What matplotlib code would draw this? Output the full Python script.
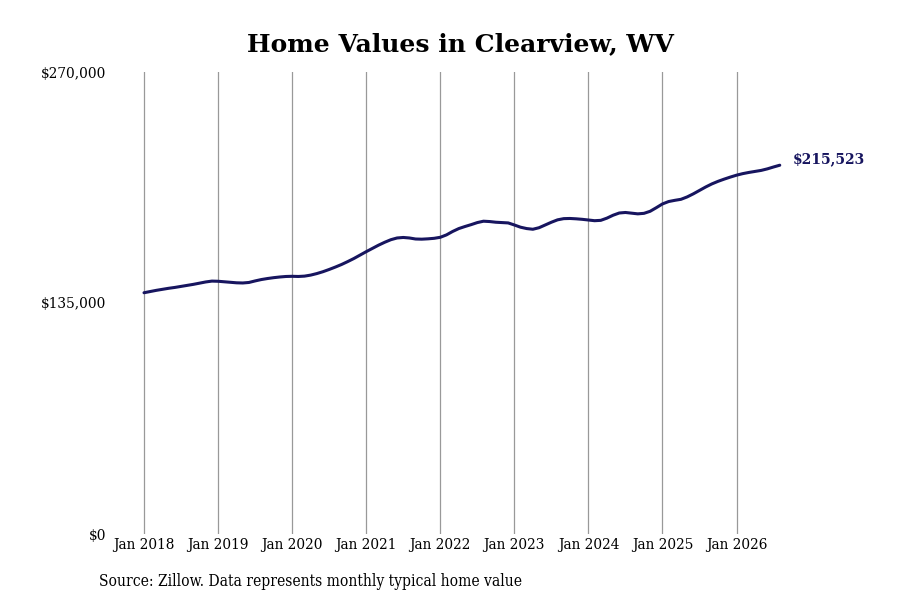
import numpy as np
import matplotlib
matplotlib.use('Agg')
import matplotlib.pyplot as plt

#monthly typical home value, in thousands of dollars (Jan 2018 - Aug 2026)
v2018 = [141.0, 141.7, 142.4, 143.0, 143.6, 144.1, 144.7, 145.3, 145.9, 146.6, 147.3, 147.8]
v2019 = [147.7, 147.4, 147.1, 146.8, 146.7, 147.0, 147.9, 148.7, 149.3, 149.8, 150.2, 150.5]
v2020 = [150.6, 150.5, 150.7, 151.3, 152.2, 153.3, 154.6, 156.0, 157.5, 159.2, 161.0, 163.0]
v2021 = [165.0, 166.9, 168.8, 170.5, 172.0, 173.0, 173.3, 173.0, 172.4, 172.3, 172.5, 172.8]
v2022 = [173.4, 174.8, 176.8, 178.5, 179.7, 180.8, 182.0, 182.8, 182.6, 182.2, 182.0, 181.8]
v2023 = [180.6, 179.3, 178.5, 178.1, 179.0, 180.6, 182.2, 183.6, 184.3, 184.4, 184.2, 183.9]
v2024 = [183.5, 183.1, 183.3, 184.6, 186.3, 187.6, 187.9, 187.5, 187.1, 187.4, 188.6, 190.7]
v2025 = [192.9, 194.3, 195.0, 195.6, 197.0, 198.8, 200.8, 202.8, 204.6, 206.1, 207.4, 208.6]
v2026 = [209.7, 210.6, 211.3, 211.9, 212.5, 213.4, 214.5, 215.523]

values = np.array(v2018 + v2019 + v2020 + v2021 + v2022 + v2023 + v2024 + v2025 + v2026) * 1000
months = np.arange(len(values))

tick_pos = np.arange(0, 97, 12)
tick_labels = ['Jan %d' % y for y in range(2018, 2027)]
y_ticks = [0, 135000, 270000]
y_labels = ['$0', '$135,000', '$270,000']
last_label = '$215,523'

navy = '#17155f'

plt.rcParams['font.family'] = 'DejaVu Serif'

fig = plt.figure(figsize=(9, 6), dpi=100)
ax = fig.add_axes([115/900, 66/600, 745/900, 462/600])

ax.plot(months, values, color=navy, linewidth=2.2, solid_capstyle='round')

ax.set_xlim(-4.7, 116)
ax.set_ylim(0, 270000)
ax.set_xticks(tick_pos)
ax.set_xticklabels(tick_labels, fontsize=11, fontstretch='condensed')
ax.set_yticks(y_ticks)
ax.set_yticklabels(y_labels, fontsize=11, fontstretch='condensed')
ax.tick_params(axis='both', length=0)
ax.tick_params(axis='x', pad=3)
ax.tick_params(axis='y', pad=6)
ax.grid(axis='x', color='#999999', linewidth=0.9)
ax.grid(axis='y', visible=False)
for s in ax.spines.values():
    s.set_visible(False)

ax.annotate(last_label, (months[-1], values[-1]), xytext=(9, 4), textcoords='offset points',
            fontsize=10, fontweight='bold', color=navy, va='center', ha='left')

fig.text(0.512, 0.927, 'Home Values in Clearview, WV', ha='center', va='center',
         fontsize=18, fontweight='bold')
fig.text(99/900, 1 - 582/600, 'Source: Zillow. Data represents monthly typical home value',
         ha='left', va='center', fontsize=11.2, fontstretch='condensed')

fig.savefig('out.png', dpi=100)
